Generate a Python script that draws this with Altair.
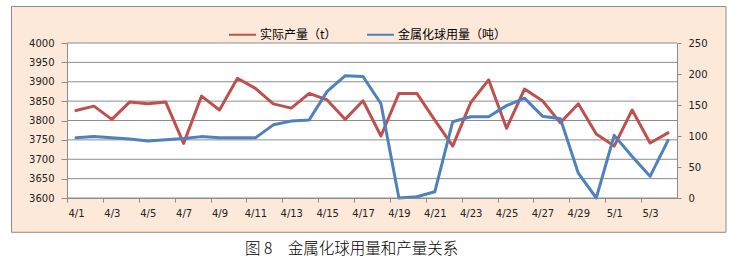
import altair as alt
import pandas as pd

# ---- data ----
dates = ['4/1', '4/2', '4/3', '4/4', '4/5', '4/6', '4/7', '4/8', '4/9', '4/10',
         '4/11', '4/12', '4/13', '4/14', '4/15', '4/16', '4/17', '4/18', '4/19', '4/20',
         '4/21', '4/22', '4/23', '4/24', '4/25', '4/26', '4/27', '4/28', '4/29', '4/30',
         '5/1', '5/2', '5/3', '5/4']
output_t = [3826, 3837, 3803, 3848, 3843, 3848, 3741, 3863, 3827, 3909,
            3883, 3843, 3832, 3870, 3853, 3803, 3851, 3760, 3870, 3870,
            3801, 3734, 3846, 3905, 3780, 3881, 3851, 3794, 3843, 3765,
            3734, 3827, 3742, 3768]
ball_t = [97, 99, 97, 95, 92, 94, 96, 99, 97, 97,
          97, 118, 124, 126, 172, 197, 196, 152, 0, 2,
          10, 123, 131, 131, 149, 161, 132, 128, 40, 0,
          101, 67, 35, 93]
series_names = ['实际产量（t）', '金属化球用量（吨）']
series_colors = ['#C0504D', '#4F81BD']
left_ticks = list(range(3600, 4001, 50))
right_ticks = list(range(0, 251, 50))
x_label_idx = list(range(0, len(dates), 2))
caption = '图 8\u3000金属化球用量和产量关系'

# ---- layout ----
W, H = 610, 155
PL, PT = 67, 43
band = W / len(dates)
FONT = 'DejaVu Sans'
CJK = 'Noto Sans CJK SC'
GRAY = '#8C8C8C'

idx = list(range(len(dates)))
df_out = pd.DataFrame({'i': idx, 'v': output_t, 's': [series_names[0]] * len(dates)})
df_ball = pd.DataFrame({'i': idx, 'v': ball_t, 's': [series_names[1]] * len(dates)})
df_grid = pd.DataFrame({'g': left_ticks})
one = pd.DataFrame({'k': [0]})

x_scale = alt.Scale(domain=[-0.5, len(dates) - 0.5], nice=False, zero=False)
left_scale = alt.Scale(domain=[3600, 4000], nice=False, zero=False)
right_scale = alt.Scale(domain=[0, 250], nice=False, zero=False)
color_scale = alt.Scale(domain=series_names, range=series_colors)
label_expr = "[" + ",".join(f"'{d}'" for d in dates) + "][datum.value]"

x_axis = alt.Axis(values=x_label_idx, labelExpr=label_expr, title=None, grid=False,
                  tickOffset=-band / 2, labelOffset=band / 2, tickSize=4,
                  tickColor=GRAY, domainColor=GRAY, labelFont=FONT, labelFontSize=10,
                  labelColor='#222222', labelPadding=6, labelFlush=False,
                  labelOverlap=False, zindex=1)
left_axis = alt.Axis(values=left_ticks, format='d', title=None, grid=False, tickSize=6,
                     tickColor=GRAY, domainColor=GRAY, labelFont=FONT, labelFontSize=10,
                     labelColor='#222222', labelPadding=7, labelFlush=False, zindex=1)
right_axis = alt.Axis(values=right_ticks, format='d', orient='right', title=None, grid=False,
                      tickSize=4, tickColor=GRAY, domainColor=GRAY, labelFont=FONT,
                      labelFontSize=10, labelColor='#222222', labelPadding=7,
                      labelFlush=False, zindex=1)

legend = alt.Legend(orient='none', legendX=161, legendY=-23, direction='horizontal',
                    title=None, symbolType='stroke', symbolSize=729, symbolStrokeWidth=2,
                    labelFont=CJK, labelFontSize=12, labelColor='#000000', labelOffset=3,
                    columnPadding=26, padding=0, labelLimit=300)

frame = alt.Chart(one).mark_rect(fill='#FDE9D9', stroke=GRAY, strokeWidth=1).encode(
    x=alt.value(11.5 - PL), x2=alt.value(726 - PL),
    y=alt.value(6.5 - PT), y2=alt.value(232.3 - PT))

plot_bg = alt.Chart(one).mark_rect(fill='white').encode(
    x=alt.value(0), x2=alt.value(W), y=alt.value(0), y2=alt.value(H))

grid = alt.Chart(df_grid).mark_rule(color=GRAY, strokeWidth=1).encode(
    y=alt.Y('g:Q', scale=left_scale, axis=None),
    x=alt.value(0), x2=alt.value(W))

red = alt.Chart(df_out).mark_line(strokeWidth=3, strokeJoin='round', strokeCap='round').encode(
    x=alt.X('i:Q', scale=x_scale, axis=x_axis),
    y=alt.Y('v:Q', scale=left_scale, axis=left_axis),
    color=alt.Color('s:N', scale=color_scale, legend=legend))

blue = alt.Chart(df_ball).mark_line(strokeWidth=3, strokeJoin='round', strokeCap='round').encode(
    x=alt.X('i:Q', scale=x_scale, axis=x_axis),
    y=alt.Y('v:Q', scale=right_scale, axis=right_axis),
    color=alt.Color('s:N', scale=color_scale, legend=legend))

cap = alt.Chart(one).mark_text(text=caption, font=CJK, fontSize=15.5, fontWeight=300,
                               align='left', baseline='middle', color='#000000').encode(
    x=alt.value(245 - PL), y=alt.value(248.5 - PT))

chart = alt.layer(frame, plot_bg, grid, red, blue, cap).resolve_scale(
    y='independent'
).properties(
    width=W, height=H,
    padding={'left': PL, 'top': PT, 'right': 741 - PL - W, 'bottom': 260 - PT - H},
    autosize=alt.AutoSizeParams(type='none'),
    background='white'
).configure_view(stroke=None)

chart.save("out.html", embed_options={"renderer": "svg", "actions": False})
